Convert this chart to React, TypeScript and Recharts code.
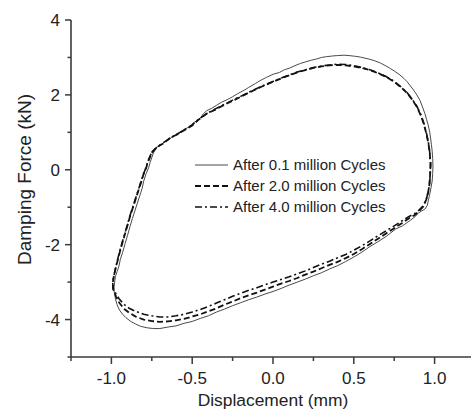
import { LineChart, Line, XAxis, YAxis, Legend, Label } from "recharts";

const FONT = "'Liberation Sans', Arial, Helvetica, sans-serif";
const AXIS_COLOR = "#3a3a3a";
const TICK_SIZE = 6;
const TICK_MARGIN = 5;

// axis ticks (major ones carry a label)
const xTicks = [-1.25, -1, -0.75, -0.5, -0.25, 0, 0.25, 0.5, 0.75, 1, 1.25];
const xMajor = [-1, -0.5, 0, 0.5, 1];
const yTicks = [-5, -4, -3, -2, -1, 0, 1, 2, 3, 4];
const yMajor = [-4, -2, 0, 2, 4];

const seriesNames = [
  "After 0.1 million Cycles",
  "After 2.0 million Cycles",
  "After 4.0 million Cycles",
];

// [displacement (mm), damping force (kN)]
const cycles01: [number, number][] = [
  [-0.74, 0.45], [-0.72, 0.6], [-0.7, 0.64], [-0.67, 0.74], [-0.64, 0.82],
  [-0.62, 0.9], [-0.59, 0.94], [-0.555, 1.07], [-0.52, 1.14], [-0.49, 1.26],
  [-0.45, 1.38], [-0.43, 1.5], [-0.41, 1.58], [-0.38, 1.64], [-0.35, 1.72],
  [-0.32, 1.8], [-0.28, 1.88], [-0.25, 1.95], [-0.22, 2.03], [-0.18, 2.12],
  [-0.15, 2.2], [-0.11, 2.3], [-0.08, 2.38], [-0.04, 2.47], [0.0, 2.55],
  [0.04, 2.6], [0.07, 2.67], [0.1, 2.71], [0.13, 2.77], [0.17, 2.84],
  [0.2, 2.88], [0.24, 2.93], [0.27, 2.96], [0.3, 3.0], [0.33, 3.02],
  [0.37, 3.04], [0.4, 3.05], [0.44, 3.06], [0.47, 3.05], [0.51, 3.03],
  [0.54, 3.01], [0.57, 2.98], [0.6, 2.95], [0.63, 2.91], [0.665, 2.85],
  [0.7, 2.77], [0.72, 2.72], [0.75, 2.64], [0.78, 2.55], [0.81, 2.44],
  [0.83, 2.35], [0.85, 2.24], [0.87, 2.13], [0.89, 2.0], [0.91, 1.85],
  [0.925, 1.68], [0.94, 1.5], [0.95, 1.35], [0.96, 1.2], [0.97, 1.0],
  [0.975, 0.85], [0.98, 0.68], [0.985, 0.5], [0.988, 0.3], [0.99, 0.1],
  [0.988, -0.1], [0.985, -0.3], [0.978, -0.48], [0.97, -0.65], [0.962, -0.8],
  [0.955, -0.95], [0.94, -1.05], [0.92, -1.1], [0.9, -1.15], [0.88, -1.25],
  [0.85, -1.35], [0.8, -1.5], [0.76, -1.58], [0.73, -1.68], [0.7, -1.78],
  [0.65, -1.92], [0.6, -2.05], [0.55, -2.2], [0.5, -2.33], [0.45, -2.45],
  [0.4, -2.56], [0.35, -2.65], [0.3, -2.75], [0.25, -2.83], [0.2, -2.92],
  [0.15, -3.0], [0.1, -3.08], [0.05, -3.17], [0.0, -3.25], [-0.05, -3.32],
  [-0.1, -3.4], [-0.15, -3.47], [-0.2, -3.55], [-0.25, -3.63], [-0.3, -3.72],
  [-0.35, -3.8], [-0.4, -3.9], [-0.45, -3.97], [-0.5, -4.05], [-0.55, -4.1],
  [-0.6, -4.17], [-0.65, -4.2], [-0.7, -4.24], [-0.74, -4.24], [-0.78, -4.22],
  [-0.82, -4.18], [-0.85, -4.12], [-0.88, -4.05], [-0.91, -3.95], [-0.93, -3.86],
  [-0.95, -3.75], [-0.965, -3.6], [-0.975, -3.45], [-0.985, -3.2], [-0.98, -3.0],
  [-0.975, -2.85], [-0.965, -2.72], [-0.955, -2.6], [-0.945, -2.4], [-0.93, -2.2],
  [-0.915, -1.97], [-0.9, -1.75], [-0.885, -1.52], [-0.87, -1.3], [-0.855, -1.1],
  [-0.84, -0.9], [-0.825, -0.7], [-0.81, -0.5], [-0.8, -0.3], [-0.785, -0.1],
  [-0.77, 0.05], [-0.76, 0.2], [-0.74, 0.45],
];

const cycles20: [number, number][] = [
  [-0.75, 0.45], [-0.72, 0.6], [-0.68, 0.7], [-0.64, 0.84], [-0.6, 0.93],
  [-0.555, 1.04], [-0.5, 1.18], [-0.46, 1.34], [-0.41, 1.5], [-0.36, 1.6],
  [-0.3, 1.74], [-0.25, 1.84], [-0.2, 1.95], [-0.15, 2.06], [-0.1, 2.16],
  [-0.05, 2.26], [0.0, 2.35], [0.05, 2.44], [0.1, 2.52], [0.15, 2.6],
  [0.2, 2.66], [0.25, 2.72], [0.3, 2.76], [0.35, 2.79], [0.4, 2.8],
  [0.45, 2.79], [0.5, 2.76], [0.55, 2.72], [0.6, 2.66], [0.65, 2.58],
  [0.7, 2.48], [0.75, 2.35], [0.79, 2.21], [0.83, 2.05], [0.86, 1.88],
  [0.89, 1.68], [0.915, 1.45], [0.935, 1.2], [0.95, 0.95], [0.962, 0.7],
  [0.97, 0.45], [0.975, 0.15], [0.972, -0.15], [0.968, -0.4], [0.96, -0.6],
  [0.948, -0.8], [0.93, -0.98], [0.905, -1.1], [0.88, -1.2], [0.84, -1.3],
  [0.8, -1.42], [0.75, -1.56], [0.7, -1.7], [0.65, -1.84], [0.6, -1.98],
  [0.55, -2.12], [0.5, -2.25], [0.45, -2.36], [0.4, -2.46], [0.35, -2.54],
  [0.3, -2.63], [0.25, -2.72], [0.2, -2.8], [0.15, -2.89], [0.1, -2.97],
  [0.05, -3.04], [0.0, -3.12], [-0.05, -3.2], [-0.1, -3.28], [-0.15, -3.35],
  [-0.2, -3.43], [-0.25, -3.52], [-0.3, -3.6], [-0.35, -3.7], [-0.4, -3.78],
  [-0.45, -3.86], [-0.5, -3.92], [-0.55, -3.98], [-0.6, -4.02], [-0.65, -4.05],
  [-0.7, -4.06], [-0.75, -4.04], [-0.8, -4.0], [-0.85, -3.92], [-0.89, -3.82],
  [-0.92, -3.72], [-0.95, -3.56], [-0.97, -3.4], [-0.99, -3.18], [-0.99, -2.98],
  [-0.985, -2.85], [-0.975, -2.65], [-0.96, -2.4], [-0.945, -2.15], [-0.93, -1.92],
  [-0.915, -1.7], [-0.9, -1.48], [-0.885, -1.25], [-0.87, -1.05], [-0.855, -0.85],
  [-0.84, -0.65], [-0.825, -0.45], [-0.81, -0.25], [-0.8, -0.1], [-0.785, 0.05],
  [-0.775, 0.2], [-0.75, 0.45],
];

const cycles40: [number, number][] = [
  [-0.75, 0.47], [-0.72, 0.6], [-0.68, 0.72], [-0.64, 0.83], [-0.6, 0.94],
  [-0.555, 1.05], [-0.5, 1.2], [-0.46, 1.35], [-0.41, 1.5], [-0.36, 1.62],
  [-0.3, 1.75], [-0.25, 1.86], [-0.2, 1.96], [-0.15, 2.07], [-0.1, 2.17],
  [-0.05, 2.27], [0.0, 2.36], [0.05, 2.45], [0.1, 2.53], [0.15, 2.61],
  [0.2, 2.67], [0.25, 2.73], [0.3, 2.77], [0.35, 2.8], [0.4, 2.82],
  [0.45, 2.81], [0.5, 2.78], [0.55, 2.73], [0.6, 2.67], [0.65, 2.59],
  [0.7, 2.49], [0.75, 2.36], [0.79, 2.22], [0.83, 2.06], [0.86, 1.89],
  [0.89, 1.7], [0.915, 1.47], [0.935, 1.22], [0.95, 0.97], [0.962, 0.72],
  [0.97, 0.46], [0.975, 0.16], [0.973, -0.14], [0.968, -0.4], [0.96, -0.6],
  [0.948, -0.8], [0.93, -0.96], [0.905, -1.07], [0.88, -1.16], [0.84, -1.25],
  [0.8, -1.36], [0.75, -1.5], [0.7, -1.63], [0.65, -1.76], [0.6, -1.9],
  [0.55, -2.03], [0.5, -2.15], [0.45, -2.26], [0.4, -2.35], [0.35, -2.44],
  [0.3, -2.52], [0.25, -2.61], [0.2, -2.7], [0.15, -2.78], [0.1, -2.86],
  [0.05, -2.93], [0.0, -3.0], [-0.05, -3.07], [-0.1, -3.15], [-0.15, -3.22],
  [-0.2, -3.3], [-0.25, -3.38], [-0.3, -3.47], [-0.35, -3.56], [-0.4, -3.65],
  [-0.45, -3.73], [-0.5, -3.8], [-0.55, -3.86], [-0.6, -3.9], [-0.65, -3.93],
  [-0.7, -3.93], [-0.75, -3.9], [-0.8, -3.86], [-0.85, -3.78], [-0.89, -3.7],
  [-0.92, -3.6], [-0.95, -3.46], [-0.97, -3.33], [-0.99, -3.15], [-0.992, -2.98],
  [-0.985, -2.84], [-0.975, -2.64], [-0.962, -2.4], [-0.947, -2.15], [-0.932, -1.92],
  [-0.917, -1.7], [-0.902, -1.48], [-0.887, -1.25], [-0.872, -1.05], [-0.857, -0.85],
  [-0.842, -0.65], [-0.827, -0.45], [-0.812, -0.25], [-0.8, -0.1], [-0.787, 0.05],
  [-0.775, 0.22], [-0.75, 0.47],
];

const lineStyles = [
  { stroke: "#4a4a4a", width: 1, dash: undefined as string | undefined },
  { stroke: "#111", width: 1.8, dash: "6 3" },
  { stroke: "#111", width: 1.6, dash: "7 3 2 3" },
];

const toPoints = (pts: [number, number][]) => pts.map(([x, y]) => ({ x, y }));

const XTick = (props: any) => {
  const { x, y, payload } = props;
  const axisY = y - TICK_SIZE - TICK_MARGIN;
  const major = xMajor.includes(payload.value);
  return (
    <g>
      <line x1={x} x2={x} y1={axisY} y2={axisY + (major ? 7 : 4)} stroke={AXIS_COLOR} strokeWidth={1.5} />
      {major && (
        <text x={x} y={axisY + 27} textAnchor="middle" fontSize={17} fill="#222" fontFamily={FONT}>
          {payload.value.toFixed(1)}
        </text>
      )}
    </g>
  );
};

const YTick = (props: any) => {
  const { x, y, payload } = props;
  const axisX = x + TICK_SIZE + TICK_MARGIN;
  const major = yMajor.includes(payload.value);
  return (
    <g>
      <line x1={axisX} x2={axisX - (major ? 6 : 3.5)} y1={y} y2={y} stroke={AXIS_COLOR} strokeWidth={1.5} />
      {major && (
        <text x={axisX - 11} y={y + 6} textAnchor="end" fontSize={17} fill="#222" fontFamily={FONT}>
          {payload.value}
        </text>
      )}
    </g>
  );
};

const renderLegend = () => (
  <div style={{ fontFamily: FONT, fontSize: 15, color: "#222" }}>
    {seriesNames.map((name, i) => (
      <div key={name} style={{ display: "flex", alignItems: "center", height: 21 }}>
        <svg width={33} height={10} style={{ marginRight: 5 }}>
          <line
            x1={0}
            x2={33}
            y1={5}
            y2={5}
            stroke={lineStyles[i].stroke}
            strokeWidth={lineStyles[i].width}
            strokeDasharray={lineStyles[i].dash}
          />
        </svg>
        <span>{name}</span>
      </div>
    ))}
  </div>
);

const series = [cycles01, cycles20, cycles40];

export default function App() {
  return (
    <div
      style={{
        position: "fixed",
        left: 0,
        top: 0,
        width: 471,
        height: 416,
        overflow: "hidden",
        background: "#fff",
      }}
    >
      <LineChart width={480} height={416} margin={{ top: 20, right: 5, bottom: 0, left: 0 }}>
        <XAxis
          type="number"
          dataKey="x"
          domain={[-1.25, 1.25]}
          ticks={xTicks}
          interval={0}
          allowDataOverflow
          height={59}
          tickSize={TICK_SIZE}
          tickMargin={TICK_MARGIN}
          tickLine={false}
          tick={<XTick />}
          axisLine={{ stroke: AXIS_COLOR, strokeWidth: 1.6 }}
        >
          <Label
            content={({ viewBox }: any) => (
              <text
                x={viewBox.x + viewBox.width / 2}
                y={viewBox.y + 49}
                textAnchor="middle"
                fontSize={17.4}
                fill="#222"
                fontFamily={FONT}
              >
                Displacement (mm)
              </text>
            )}
          />
        </XAxis>
        <YAxis
          type="number"
          dataKey="y"
          domain={[-5, 4]}
          ticks={yTicks}
          interval={0}
          allowDataOverflow
          width={71}
          tickSize={TICK_SIZE}
          tickMargin={TICK_MARGIN}
          tickLine={false}
          tick={<YTick />}
          axisLine={{ stroke: AXIS_COLOR, strokeWidth: 1.6 }}
        >
          <Label
            content={({ viewBox }: any) => {
              const cx = 31;
              const cy = viewBox.y + viewBox.height / 2 - 9;
              return (
                <text
                  x={cx}
                  y={cy}
                  transform={`rotate(-90, ${cx}, ${cy})`}
                  textAnchor="middle"
                  fontSize={19}
                  fill="#222"
                  fontFamily={FONT}
                >
                  Damping Force (kN)
                </text>
              );
            }}
          />
        </YAxis>
        <Legend
          layout="vertical"
          align="center"
          verticalAlign="middle"
          content={renderLegend}
          wrapperStyle={{ left: 195, top: 154, width: "auto" }}
        />
        {series.map((pts, i) => (
          <Line
            key={seriesNames[i]}
            name={seriesNames[i]}
            data={toPoints(pts)}
            dataKey="y"
            type="linear"
            stroke={lineStyles[i].stroke}
            strokeWidth={lineStyles[i].width}
            strokeDasharray={lineStyles[i].dash}
            dot={false}
            activeDot={false}
            isAnimationActive={false}
          />
        ))}
      </LineChart>
    </div>
  );
}
